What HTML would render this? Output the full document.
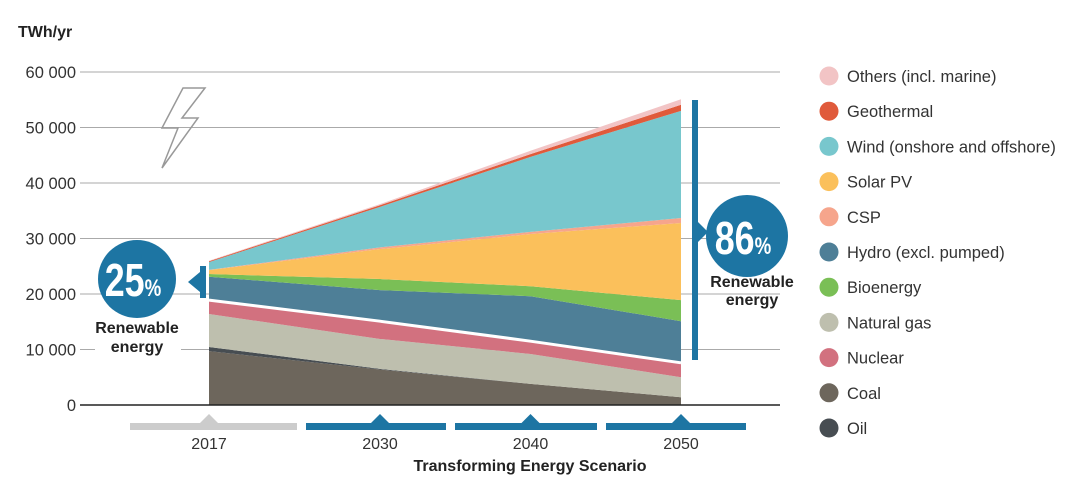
<!DOCTYPE html>
<html><head><meta charset="utf-8"><style>
body{margin:0;background:#fff;font-family:"Liberation Sans",sans-serif}
svg{display:block}
</style></head><body>
<svg id="chart" width="1088" height="489">
<text x="18" y="37" font-size="16" font-weight="bold" fill="#222">TWh/yr</text>
<g id="grid"></g>
<g id="areas"></g>
<line x1="80" y1="405" x2="780" y2="405" stroke="#222" stroke-width="1.5"/>
<g id="xaxis"></g>
<text x="530" y="471" font-size="16" font-weight="bold" text-anchor="middle" fill="#222">Transforming Energy Scenario</text>
<polygon points="205,88 183,88 162,128 178,128 162,168 198,118 182,118" fill="none" stroke="#999" stroke-width="1.5"/>
<g>
<circle cx="137" cy="279" r="39" fill="#1d75a3"/>
<g transform="translate(133,296) scale(0.78,1)"><text x="0" y="0" font-size="46" font-weight="bold" fill="#fff" text-anchor="middle">25<tspan font-size="24">%</tspan></text></g>
<rect x="200" y="266" width="6" height="32" fill="#1d75a3"/>
<polygon points="188,282 200,272 200,292" fill="#1d75a3"/>
<rect x="95" y="318" width="86" height="38" fill="#fff"/>
<text x="137" y="333" font-size="16" font-weight="bold" fill="#222" text-anchor="middle">Renewable</text>
<text x="137" y="352" font-size="16" font-weight="bold" fill="#222" text-anchor="middle">energy</text>
</g>
<g>
<rect x="692" y="100" width="6" height="260" fill="#1d75a3"/>
<polygon points="698,222 708,232 698,242" fill="#1d75a3"/>
<circle cx="747" cy="236" r="41" fill="#1d75a3"/>
<g transform="translate(743,254) scale(0.78,1)"><text x="0" y="0" font-size="46" font-weight="bold" fill="#fff" text-anchor="middle">86<tspan font-size="24">%</tspan></text></g>
<text x="752" y="287" font-size="16" font-weight="bold" fill="#222" text-anchor="middle">Renewable</text>
<text x="752" y="305" font-size="16" font-weight="bold" fill="#222" text-anchor="middle">energy</text>
</g>
<g id="legend"></g>
</svg>
<script>
const years=[2017,2030,2040,2050];
const series=["Coal","Oil","Natural gas","Nuclear","Hydro (excl. pumped)","Bioenergy","Solar PV","CSP","Wind (onshore and offshore)","Geothermal","Others (incl. marine)"];
const coal=[9700,6400,3800,1400];
const oil=[750,100,0,0];
const gas=[5950,5400,5400,3600];
const nuclear=[2500,3200,2300,2600];
const hydro=[4200,5600,8100,7500];
const bio=[500,2000,1800,3800];
const solar=[700,5400,9400,13900];
const csp=[50,300,400,900];
const wind=[1400,7300,13500,19300];
const geo=[150,300,500,1100];
const others=[100,200,600,1000];
const yTicks=[0,10000,20000,30000,40000,50000,60000];
const yTickLabels=["0","10 000","20 000","30 000","40 000","50 000","60 000"];
const colors=["#6d665c","#474d52","#bebfae","#d2717f","#4e7f97","#7abf56","#fbc05b","#f6a58c","#78c7cd","#e05a3b","#f2c4c5"];
const legendOrder=["Others (incl. marine)","Geothermal","Wind (onshore and offshore)","Solar PV","CSP","Hydro (excl. pumped)","Bioenergy","Natural gas","Nuclear","Coal","Oil"];
const vals=[coal,oil,gas,nuclear,hydro,bio,solar,csp,wind,geo,others];
const NS="http://www.w3.org/2000/svg";
function y(v){return 405-v*0.00555;}
function x(yr){return yr===2017?209:380+(yr-2030)*15.05;}
function mk(t,a,p){const e=document.createElementNS(NS,t);for(const k in a)e.setAttribute(k,a[k]);p.appendChild(e);return e;}
const grid=document.getElementById('grid');
yTicks.forEach((t,i)=>{
 if(t>0){const l=mk('line',{x1:80,x2:780,y1:y(t),y2:y(t),stroke:'#aaa','stroke-width':1},grid);
 
 }
 const tx=mk('text',{x:76,y:y(t)+6,'font-size':16.5,'text-anchor':'end',fill:'#333'},grid);
 tx.textContent=yTickLabels[i];
 
 
});
const areas=document.getElementById('areas');
let base=[0,0,0,0];
let divider=null;
vals.forEach((s,si)=>{
 const top=base.map((b,i)=>b+s[i]);
 let pts=years.map((yr,i)=>x(yr)+','+y(top[i]));
 pts=pts.concat(years.map((yr,i)=>x(yr)+','+y(base[i])).reverse());
 const p=mk('polygon',{points:pts.join(' '),fill:colors[si]},areas);
 
 
 if(si===3){divider=years.map((yr,i)=>x(yr)+','+y(top[i])).join(' ');}
 base=top;
});
const dl=mk('polyline',{points:divider,fill:'none',stroke:'#fff','stroke-width':3},areas);


const xa=document.getElementById('xaxis');
const barSpans=[[130,297,'#ccc'],[306,446,'#1d75a3'],[455,597,'#1d75a3'],[606,746,'#1d75a3']];
years.forEach((yr,i)=>{
 const c=barSpans[i][2];
 const r=mk('rect',{x:barSpans[i][0],y:423,width:barSpans[i][1]-barSpans[i][0],height:7,fill:c},xa);
 
 
 mk('polygon',{points:(x(yr)-9)+',423 '+x(yr)+',414 '+(x(yr)+9)+',423',fill:c},xa);
 const t=mk('text',{x:x(yr),y:449,'font-size':16,'text-anchor':'middle',fill:'#333'},xa);
 t.textContent=yr;
 
 
});
const lg=document.getElementById('legend');
legendOrder.forEach((name,i)=>{
 const cy=76+i*35.2;
 const g=mk('g',{},lg);
 
 
 mk('circle',{cx:829,cy:cy,r:9.5,fill:colors[series.indexOf(name)]},g);
 const t=mk('text',{x:847,y:cy+6,'font-size':16.5,fill:'#333'},g);
 t.textContent=name;
});
</script>
</body></html>
